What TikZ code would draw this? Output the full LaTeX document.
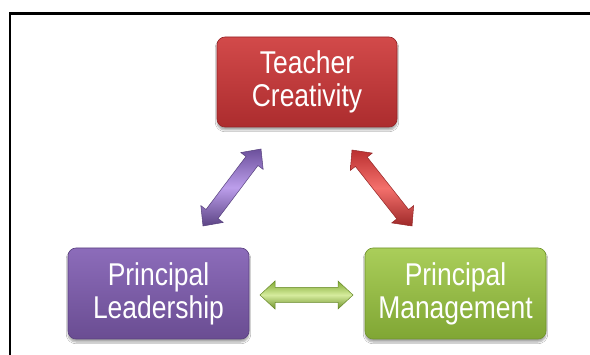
\documentclass[tikz,border=0pt]{standalone}
\usepackage{fontspec}
\newfontfamily\boxfont[FakeStretch=0.84]{Liberation Sans}
\usetikzlibrary{calc,shadows.blur}
\definecolor{redA}{RGB}{210,74,74}
\definecolor{redM}{RGB}{198,60,60}
\definecolor{redB}{RGB}{172,44,46}
\definecolor{redE}{RGB}{150,35,38}
\definecolor{purA}{RGB}{140,108,186}
\definecolor{purM}{RGB}{126,95,168}
\definecolor{purB}{RGB}{106,77,146}
\definecolor{purE}{RGB}{90,64,128}
\definecolor{grnA}{RGB}{170,206,90}
\definecolor{grnM}{RGB}{152,191,72}
\definecolor{grnB}{RGB}{128,166,52}
\definecolor{grnE}{RGB}{112,148,44}
\definecolor{arPurE}{RGB}{108,80,156}
\definecolor{arPurC}{RGB}{188,158,235}
\definecolor{arRedE}{RGB}{186,48,48}
\definecolor{arRedC}{RGB}{244,112,108}
\definecolor{arGrnE}{RGB}{128,170,48}
\definecolor{arGrnC}{RGB}{214,236,158}
\tikzset{
  box/.style={rounded corners=8pt, minimum width=181pt, minimum height=91pt,
    text=white, align=center, inner sep=0pt, line width=0.6pt,
    font=\boxfont\fontsize{31.5}{33}\selectfont,
    blur shadow={shadow xshift=0pt, shadow yshift=-3pt, shadow blur steps=6, shadow opacity=35}},
  arrowedge/.style={line width=0.5pt, line join=miter},
}
% fat double arrow between two named coordinates
\newcommand\fatarrow[4]{% #1 name prefix, #2 start, #3 end, #4 colour prefix
  \coordinate (#1h1) at ($(#2)!15pt!(#3)$);
  \coordinate (#1h2) at ($(#3)!15pt!(#2)$);
  \coordinate (#1p1) at ($(#1h1)!14pt!90:(#3)$);
  \coordinate (#1p2) at ($(#1h1)!7.5pt!90:(#3)$);
  \coordinate (#1p3) at ($(#1h2)!7.5pt!-90:(#2)$);
  \coordinate (#1p4) at ($(#1h2)!14pt!-90:(#2)$);
  \coordinate (#1q1) at ($(#1h1)!14pt!-90:(#3)$);
  \coordinate (#1q2) at ($(#1h1)!7.5pt!-90:(#3)$);
  \coordinate (#1q3) at ($(#1h2)!7.5pt!90:(#2)$);
  \coordinate (#1q4) at ($(#1h2)!14pt!90:(#2)$);
  \path let \p1=($(#3)-(#2)$), \n1={atan2(\y1,\x1)} in
    [shading angle=\n1, top color=#4E, bottom color=#4E!85!black, middle color=#4C,
     draw=#4E!80!black, arrowedge]
    (#2) -- (#1p1) -- (#1p2) -- (#1p3) -- (#1p4) -- (#3)
    -- (#1q4) -- (#1q3) -- (#1q2) -- (#1q1) -- cycle;
}
\begin{document}
\begin{tikzpicture}[x=1pt,y=-1pt]
\useasboundingbox (0,0) rectangle (590,355);
\fill[white] (0,0) rectangle (590,355);
\draw[line width=2.5pt] (10,357) -- (10,13.5) -- (592,13.5);
% boxes
\node[box, top color=redA, middle color=redM, bottom color=redB, draw=redE,
      minimum width=180pt, minimum height=90pt] (tc) at (307,82) {Teacher\\Creativity};
\node[box, top color=purA, middle color=purM, bottom color=purB, draw=purE] (pl) at (158.5,293.5) {Principal\\Leadership};
\node[box, top color=grnA, middle color=grnM, bottom color=grnB, draw=grnE] (pm) at (455.5,293.5) {Principal\\Management};
% arrow end points
\coordinate (a1) at (203,226);
\coordinate (a2) at (261,149);
\coordinate (b1) at (352,150);
\coordinate (b2) at (412,226);
\coordinate (c1) at (260,295);
\coordinate (c2) at (353,295);
\fatarrow{pa}{a1}{a2}{arPur}
\fatarrow{ra}{b1}{b2}{arRed}
\fatarrow{ga}{c1}{c2}{arGrn}
\end{tikzpicture}
\end{document}
